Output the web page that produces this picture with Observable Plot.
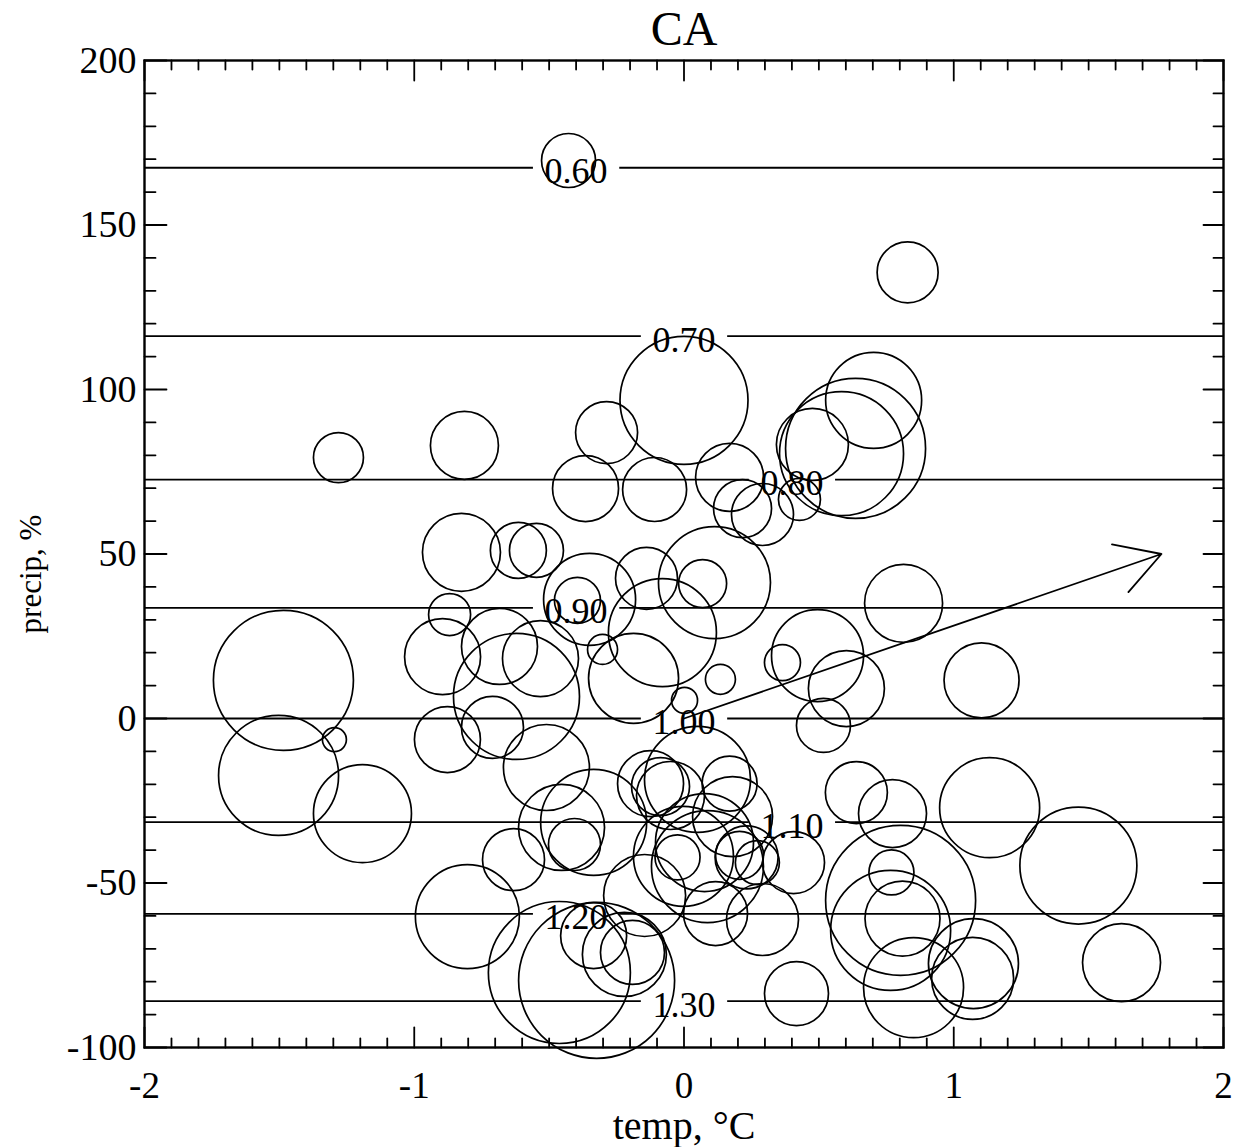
<!DOCTYPE html>
<html><head><meta charset="utf-8">
<script src="https://cdn.jsdelivr.net/npm/d3@7"></script>
<script src="https://cdn.jsdelivr.net/npm/@observablehq/plot@0.6"></script>
<style>body{margin:0;background:#fff} svg{display:block}</style>
</head><body><div id="chart"></div>
<script>
// circle centres (temp °C, precip %) and circle weight
const temp = [-0.428,0.829,-1.281,-0.814,-0.825,-0.614,-0.547,-1.485,-0.869,-0.895,-0.684,-0.621,-0.532,0.0,-0.287,-0.365,-0.109,0.169,0.217,0.291,0.428,0.476,0.584,0.636,0.703,-0.350,-0.395,-0.139,0.113,0.069,-0.080,-0.187,-0.302,0.135,0.365,0.495,0.814,1.103,0.602,0.517,0.002,-1.503,-1.296,-1.192,-0.877,-0.710,-0.510,-0.632,-0.803,-0.462,-0.324,-0.335,-0.221,-0.191,-0.146,-0.454,-0.406,-0.335,-0.124,-0.087,-0.050,0.050,0.169,0.180,0.076,-0.002,0.087,0.232,0.206,0.272,0.406,0.291,0.117,0.417,-0.024,0.639,0.773,1.133,1.462,0.769,0.803,0.810,0.766,0.851,1.073,1.070,1.622];
const precip = [169.6,135.6,79.3,83.0,50.5,51.1,51.1,11.6,31.6,18.8,21.9,6.7,18.2,96.7,86.9,69.9,69.6,73.3,63.8,62.0,66.6,83.3,80.5,82.1,96.7,36.2,35.9,42.6,41.3,41.0,26.1,12.2,21.0,11.9,17.0,19.1,35.0,11.6,9.1,-2.1,5.5,-17.3,-6.4,-28.9,-6.4,-2.7,-14.9,-42.9,-60.2,-77.2,-79.6,-66.0,-71.7,-71.1,-53.8,-33.1,-38.3,-31.6,-19.8,-20.7,-23.4,-18.5,-19.8,-29.8,-37.7,-41.9,-45.0,-42.2,-41.6,-43.8,-43.8,-61.1,-59.3,-83.6,-42.2,-22.5,-28.9,-27.1,-44.7,-46.8,-55.3,-60.8,-64.4,-81.8,-74.5,-79.0,-74.2];
const weight = [2.7,3.05,2.5,3.4,3.9,2.8,2.7,7.0,2.1,3.8,3.8,6.3,3.8,6.4,3.1,3.3,3.2,3.4,2.9,3.1,2.1,3.6,6.2,7.0,4.8,4.6,2.3,3.1,5.6,2.4,5.4,4.5,1.5,1.5,1.8,4.6,3.9,3.75,3.8,2.7,1.3,6.0,1.2,4.9,3.3,3.1,4.3,3.1,5.2,7.1,7.8,3.3,4.2,3.2,4.1,4.3,2.6,5.3,3.3,2.9,3.4,5.3,2.75,4.0,4.9,5.0,5.6,3.15,2.4,2.2,3.1,3.6,3.2,3.2,2.25,3.1,3.4,5.0,5.85,2.25,7.5,3.75,6.0,5.0,4.5,4.1,3.9];

// contour lines of the ratio
const contourLevels = ["0.60","0.70","0.80","0.90","1.00","1.10","1.20","1.30"];
const contourPrecip = [167.4,116.2,72.6,33.6,0,-31.5,-59.4,-85.9];
const contourLabelTemp = [-0.40,0.0,0.40,-0.40,0.0,0.40,-0.40,0.0];

// arrow
const arrowTemp = [0, 1.77];
const arrowPrecip = [0, 50];

// axes
const xTicks = [-2,-1,0,1,2];
const yTicks = [-100,-50,0,50,100,150,200];
const xDomain = [-2, 2];
const yDomain = [-100, 200];

const points = temp.map((t, i) => ({temp: t, precip: precip[i], w: weight[i]}));
const gap = 0.16;
const segs = [];
contourLevels.forEach((lv, i) => {
  segs.push({x1: xDomain[0], x2: contourLabelTemp[i] - gap, y: contourPrecip[i]});
  segs.push({x1: contourLabelTemp[i] + gap, x2: xDomain[1], y: contourPrecip[i]});
});
const labels = contourLevels.map((lv, i) => ({text: lv, x: contourLabelTemp[i], y: contourPrecip[i]}));

const xMinor = d3.range(-20, 21).map(i => i / 10).filter(v => !xTicks.includes(v));
const yMinor = d3.range(-100, 201, 10).filter(v => !yTicks.includes(v));

const tickShape = {draw(ctx, l) { ctx.moveTo(0, 0); ctx.lineTo(0, -l); }};
const tk = (data, ch, anchor, rot, len) => Plot.vector(data, {
  [ch]: d => d, frameAnchor: anchor, rotate: rot, length: len, anchor: "start",
  shape: tickShape, stroke: "black", strokeWidth: 1.8
});

const font = "'Liberation Serif', 'Times New Roman', serif";

const chart = Plot.plot({
  width: 1244, height: 1147,
  marginLeft: 144, marginRight: 21, marginTop: 60, marginBottom: 100,
  style: {fontFamily: font, background: "white", color: "black"},
  x: {domain: xDomain, axis: null},
  y: {domain: yDomain, axis: null},
  r: {type: "linear", domain: [0, 10], range: [0, 100]},
  marks: [
    Plot.link(segs, {x1: "x1", x2: "x2", y1: "y", y2: "y", stroke: "black", strokeWidth: 1.8}),
    Plot.text(labels, {x: "x", y: "y", text: "text", fontSize: 36, dy: 4, fill: "black"}),
    Plot.dot(points, {x: "temp", y: "precip", r: "w", stroke: "black", strokeWidth: 1.7, fill: "none"}),
    Plot.arrow([0], {x1: arrowTemp[0], y1: arrowPrecip[0], x2: arrowTemp[1], y2: arrowPrecip[1],
      headLength: 42, headAngle: 60, stroke: "black", strokeWidth: 1.8}),
    tk(xTicks, "x", "bottom", 0, 20), tk(xMinor, "x", "bottom", 0, 9),
    tk(xTicks, "x", "top", 180, 20), tk(xMinor, "x", "top", 180, 9),
    tk(yTicks, "y", "left", 90, 22), tk(yMinor, "y", "left", 90, 11),
    tk(yTicks, "y", "right", -90, 20), tk(yMinor, "y", "right", -90, 10),
    Plot.frame({stroke: "black", strokeWidth: 2.4}),
    Plot.axisX(xTicks, {tickSize: 0, tickPadding: 24, fontSize: 37, tickFormat: d => String(d), label: null}),
    Plot.axisY(yTicks, {tickSize: 0, tickPadding: 8, fontSize: 38, tickFormat: d => String(d), label: null}),
    Plot.text(["CA"], {frameAnchor: "top", lineAnchor: "middle", dy: -31, fontSize: 48, fill: "black"}),
    Plot.text(["temp, °C"], {frameAnchor: "bottom", lineAnchor: "middle", dy: 79, fontSize: 40, fill: "black"}),
    Plot.text(["precip, %"], {frameAnchor: "left", textAnchor: "middle", lineAnchor: "middle", dx: -113, dy: 20, rotate: -90, fontSize: 31, fill: "black"})
  ]
});
document.getElementById("chart").appendChild(chart);
</script>
</body></html>
